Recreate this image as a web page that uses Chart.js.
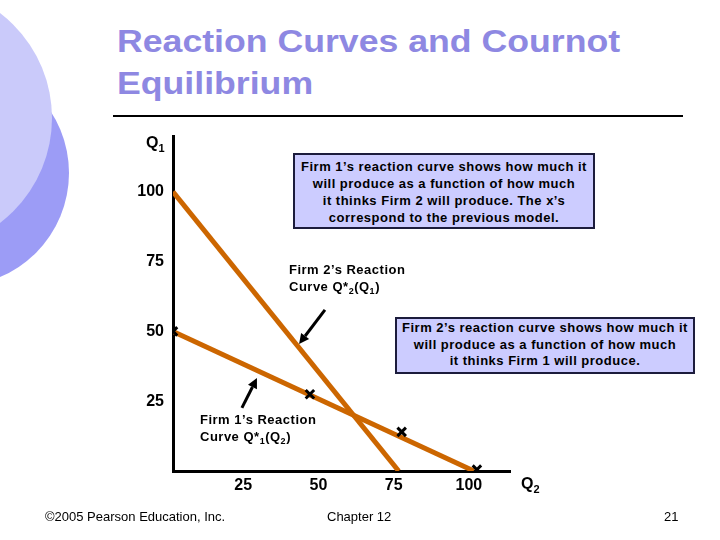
<!DOCTYPE html>
<html>
<head>
<meta charset="utf-8">
<script src="https://cdn.jsdelivr.net/npm/chart.js@4.4.0/dist/chart.umd.min.js"></script>
<style>
body { margin:0; width:720px; height:540px; overflow:hidden; background:#fff; position:relative;
       font-family:"Liberation Sans", Arial, sans-serif; color:#000; }
.circ { position:absolute; border-radius:50%; }
#c1 { left:-157px; top:60px; width:226px; height:226px; background:#9c9cf6; }
#c2 { left:-212px; top:-14px; width:264px; height:264px; background:#cacafa; }
#title { position:absolute; left:117px; top:21px; font-weight:bold; font-size:31px; line-height:42px; color:#8e88e2;
         transform:scaleX(1.15); transform-origin:left top; white-space:nowrap; }
#rule { position:absolute; left:113px; top:115px; width:570px; height:2px; background:#000; }
canvas { position:absolute; left:0; top:0; }
.box { position:absolute; background:#ccccff; border:2px solid #1c1c3c; box-sizing:border-box;
       text-align:center; font-weight:bold; font-size:13px; letter-spacing:0.5px; }
.lab { position:absolute; font-weight:bold; font-size:13px; letter-spacing:0.5px; line-height:17px; white-space:nowrap; }
.lab sub { font-size:9px; line-height:0; vertical-align:-3px; }
.q { position:absolute; font-weight:bold; font-size:16px; line-height:18px; }
.q sub { font-size:11px; line-height:0; vertical-align:-4px; }
.foot { position:absolute; top:509px; font-size:13px; line-height:16px; }
</style>
</head>
<body>
<div class="circ" id="c1"></div>
<div class="circ" id="c2"></div>
<div id="title">Reaction Curves and Cournot<br>Equilibrium</div>
<div id="rule"></div>
<canvas id="cournotChart" width="720" height="540"></canvas>

<div class="q" style="left:146px; top:134px;">Q<sub>1</sub></div>
<div class="q" style="left:521px; top:475px;">Q<sub>2</sub></div>

<div class="box" style="left:293px; top:153px; width:302px; height:76px; padding-top:3px; line-height:17px;">
Firm 1’s reaction curve shows how much it<br>will produce as a function of how much<br>it thinks Firm 2 will produce. The x’s<br>correspond to the previous model.</div>

<div class="box" style="left:395px; top:317px; width:300px; height:57px; padding-top:1px; line-height:16.5px;">
Firm 2’s reaction curve shows how much it<br>will produce as a function of how much<br>it thinks Firm 1 will produce.</div>

<div class="lab" style="left:289px; top:261px;">Firm 2’s Reaction<br>Curve Q*<sub>2</sub>(Q<sub>1</sub>)</div>
<div class="lab" style="left:200px; top:411px;">Firm 1’s Reaction<br>Curve Q*<sub>1</sub>(Q<sub>2</sub>)</div>

<div class="foot" style="left:45px;">©2005 Pearson Education, Inc.</div>
<div class="foot" style="left:327px;">Chapter 12</div>
<div class="foot" style="left:664px;">21</div>

<script>
// tick labels on both axes
var q2Ticks = [25, 50, 75, 100];
var q1Ticks = [25, 50, 75, 100];

// Firm 1's reaction curve Q*1(Q2)
var firm1Q2 = [0, 100];
var firm1Q1 = [50, 0];
// Firm 2's reaction curve Q*2(Q1)
var firm2Q2 = [0, 75];
var firm2Q1 = [100, 0];
// the x's from the previous model
var prevQ2 = [0, 45.5, 76, 101];
var prevQ1 = [50, 27.5, 14, 0.5];

function pts(xs, ys) {
    return xs.map(function (v, i) { return {x: v, y: ys[i]}; });
}

var tickFont = {family: 'Liberation Sans', size: 16, weight: 'bold'};

// black arrows pointing at the curves, in data units
var arrowPlugin = {
    id: 'arrows',
    afterDatasetsDraw: function (chart) {
        var ctx = chart.ctx, sx = chart.scales.x, sy = chart.scales.y;
        var arrows = [[50.5, 57.7, 41.9, 45.5], [22.9, 22.6, 27.9, 33.3]];
        ctx.save();
        ctx.strokeStyle = '#000';
        ctx.fillStyle = '#000';
        ctx.lineWidth = 3;
        arrows.forEach(function (a) {
            var x0 = sx.getPixelForValue(a[0]), y0 = sy.getPixelForValue(a[1]);
            var x1 = sx.getPixelForValue(a[2]), y1 = sy.getPixelForValue(a[3]);
            var ang = Math.atan2(y1 - y0, x1 - x0);
            var hl = 10, hw = 5;
            var bx = x1 - hl * Math.cos(ang), by = y1 - hl * Math.sin(ang);
            ctx.beginPath();
            ctx.moveTo(x0, y0);
            ctx.lineTo(bx, by);
            ctx.stroke();
            ctx.beginPath();
            ctx.moveTo(x1, y1);
            ctx.lineTo(bx + hw * Math.sin(ang), by - hw * Math.cos(ang));
            ctx.lineTo(bx - hw * Math.sin(ang), by + hw * Math.cos(ang));
            ctx.closePath();
            ctx.fill();
        });
        ctx.restore();
    }
};

function pageLoad() {
    var ctx = document.getElementById('cournotChart');
    new Chart(ctx, {
        type: 'scatter',
        data: {
            datasets: [{
                label: 'previous model',
                data: pts(prevQ2, prevQ1),
                pointStyle: 'crossRot',
                pointRadius: 6,
                pointBorderWidth: 3,
                pointBorderColor: '#000',
                showLine: false
            }, {
                label: 'Firm 2',
                data: pts(firm2Q2, firm2Q1),
                showLine: true,
                borderColor: '#cc6600',
                borderWidth: 5,
                pointRadius: 0
            }, {
                label: 'Firm 1',
                data: pts(firm1Q2, firm1Q1),
                showLine: true,
                borderColor: '#cc6600',
                borderWidth: 5,
                pointRadius: 0
            }]
        },
        options: {
            responsive: false,
            animation: false,
            layout: {padding: {top: 136, right: 210, left: 0, bottom: 0}},
            plugins: {legend: {display: false}, tooltip: {enabled: false}},
            scales: {
                x: {
                    type: 'linear',
                    min: 0,
                    max: 112,
                    grid: {display: false, drawTicks: false},
                    border: {display: true, color: '#000', width: 3},
                    ticks: {font: tickFont, color: '#000', padding: 5, labelOffset: -5, maxRotation: 0},
                    afterBuildTicks: function (s) { s.ticks = q2Ticks.map(function (v) { return {value: v}; }); },
                    afterFit: function (s) { s.height = 69; }
                },
                y: {
                    type: 'linear',
                    min: 0,
                    max: 120,
                    grid: {display: false, drawTicks: false},
                    border: {display: true, color: '#000', width: 3},
                    ticks: {font: tickFont, color: '#000', padding: 9},
                    afterBuildTicks: function (s) { s.ticks = q1Ticks.map(function (v) { return {value: v}; }); },
                    afterFit: function (s) { s.width = 173; }
                }
            }
        },
        plugins: [arrowPlugin]
    });
}

window.onload = pageLoad;
</script>
</body>
</html>
